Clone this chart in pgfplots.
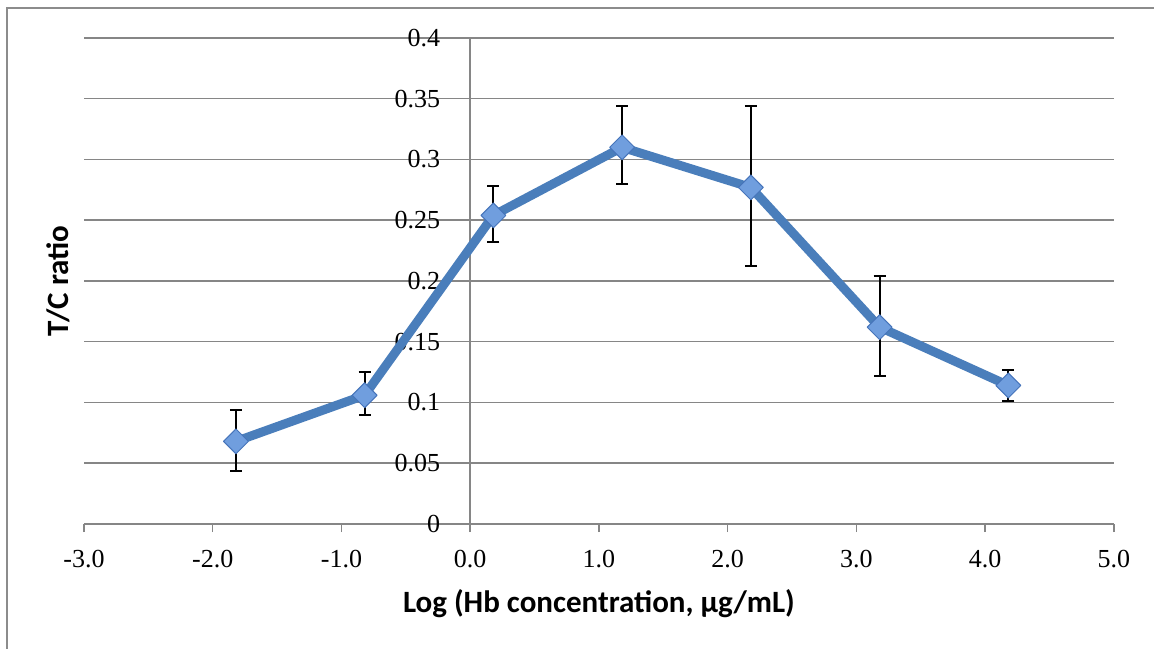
\documentclass[border=0pt]{standalone}
\usepackage{pgfplots}
\pgfplotsset{compat=1.18}
\usepackage{fontspec}
\setmainfont{Liberation Serif}
\newfontfamily\calibri{Carlito}
\definecolor{linebl}{RGB}{74,126,187}
\definecolor{mkfill}{RGB}{112,158,222}
\definecolor{mkdraw}{RGB}{70,116,186}
\definecolor{gridc}{RGB}{134,134,134}
\definecolor{framec}{RGB}{140,140,140}
\begin{document}
\begin{tikzpicture}[x=1pt,y=1pt]
\useasboundingbox (0,0) rectangle (1154,648);
\draw[framec, line width=2pt] (7,-10) -- (7,640) -- (1170,640);
\begin{axis}[
  at={(84pt,124pt)}, anchor=south west,
  scale only axis, width=1030pt, height=486pt,
  xmin=-3, xmax=5, ymin=0, ymax=0.4,
  axis x line=bottom, axis y line=middle,
  hide obscured x ticks=false, hide obscured y ticks=false,
  x axis line style={gridc, line width=1.5pt, -},
  y axis line style={gridc, line width=1.5pt, -},
  xtick={-3,-2,-1,0,1,2,3,4,5},
  ytick={0,0.05,0.1,0.15,0.2,0.25,0.3,0.35,0.4},
  yticklabels={0,0.05,0.1,0.15,0.2,0.25,0.3,0.35,0.4},
  xticklabels={-3.0,-2.0,-1.0,0.0,1.0,2.0,3.0,4.0,5.0},
  tick align=outside,
  major tick length=8pt,
  xtick style={gridc, line width=1.5pt},
  ytick style={draw=none},
  ymajorgrids,
  grid style={gridc, line width=1.5pt},
  tick label style={font=\fontsize{26}{30}\selectfont},
  xticklabel style={anchor=north, inner sep=0pt, yshift=-18pt},
  yticklabel style={anchor=east, inner sep=0pt, xshift=-22pt},
  /pgf/number format/assume math mode=true,
  xlabel={\fontsize{31}{36}\selectfont\calibri\bfseries Log (Hb concentration, µg/mL)},
  ylabel={\fontsize{31}{36}\selectfont\calibri\bfseries T/C ratio},
  xlabel style={at={(axis description cs:0.5,-0.1646)}, anchor=center},
  ylabel style={at={(axis description cs:-0.0252,0.5)}, anchor=center, rotate=90},
  clip=false,
]
\addplot[
  linebl, line width=9pt, line join=round,
  mark=square*, mark size=8.8pt,
  mark options={rotate=45, fill=mkfill, draw=mkdraw, line width=1pt},
  error bars/.cd, y dir=both, y explicit,
  error bar style={black, line width=2pt},
  error mark options={black, line width=2pt, rotate=90, mark size=6pt},
] table[x=x, y=y, y error plus=ep, y error minus=em] {
x y ep em
-1.82 0.068 0.026 0.024
-0.82 0.106 0.019 0.016
0.18 0.254 0.024 0.022
1.18 0.310 0.034 0.030
2.18 0.277 0.067 0.065
3.18 0.162 0.042 0.040
4.18 0.114 0.013 0.013
};
\end{axis}
\end{tikzpicture}
\end{document}
